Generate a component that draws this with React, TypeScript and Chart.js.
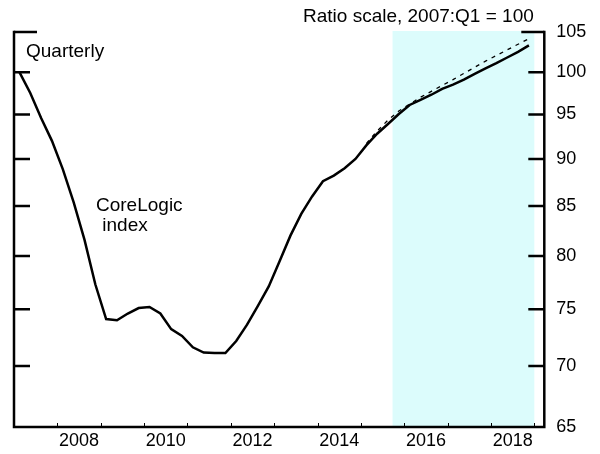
import React, { useEffect, useRef } from "react";
import { Chart, registerables } from "chart.js";
Chart.register(...registerables);

const quarters = [
  "2007:Q1","2007:Q2","2007:Q3","2007:Q4","2008:Q1","2008:Q2","2008:Q3","2008:Q4",
  "2009:Q1","2009:Q2","2009:Q3","2009:Q4","2010:Q1","2010:Q2","2010:Q3","2010:Q4",
  "2011:Q1","2011:Q2","2011:Q3","2011:Q4","2012:Q1","2012:Q2","2012:Q3","2012:Q4",
  "2013:Q1","2013:Q2","2013:Q3","2013:Q4","2014:Q1","2014:Q2","2014:Q3","2014:Q4",
  "2015:Q1","2015:Q2","2015:Q3","2015:Q4","2016:Q1","2016:Q2","2016:Q3","2016:Q4",
  "2017:Q1","2017:Q2","2017:Q3","2017:Q4","2018:Q1","2018:Q2","2018:Q3","2018:Q4",
];

const coreLogic = [
  100.0, 97.5, 94.6, 92.0, 88.9, 85.4, 81.6, 77.3,
  74.1, 74.0, 74.6, 75.1, 75.2, 74.6, 73.2, 72.6,
  71.6, 71.15, 71.1, 71.1, 72.15, 73.6, 75.3, 77.1,
  79.5, 82.0, 84.2, 86.0, 87.6, 88.2, 89.0, 90.0,
  91.5, 92.8, 93.9, 95.05, 96.1, 96.7, 97.3, 98.0,
  98.5, 99.1, 99.8, 100.45, 101.1, 101.8, 102.5, 103.3,
];

const dashedSeries = [
  null, null, null, null, null, null, null, null,
  null, null, null, null, null, null, null, null,
  null, null, null, null, null, null, null, null,
  null, null, null, null, null, null, null, null,
  91.7, 93.1, 94.35, 95.4, 96.2, 97.0, 97.7, 98.4,
  99.1, 99.85, 100.6, 101.35, 102.05, 102.75, 103.45, 104.15,
];

const yTicks = [65, 70, 75, 80, 85, 90, 95, 100, 105];
const xTickYears = [2008, 2009, 2010, 2011, 2012, 2013, 2014, 2015, 2016, 2017, 2018, 2019];
const xLabelYears = [2008, 2010, 2012, 2014, 2016, 2018];
const shadeStart = 2015.73;
const shadeEnd = 2019.0;
const xMin = 2007.0;
const xMax = 2019.23;

const FONT = "'Liberation Sans', Arial, Helvetica, sans-serif";

function quarterToX(q: string): number {
  const [y, qq] = q.split(":Q");
  return Number(y) + (Number(qq) - 1) * 0.25 + 0.125;
}

const decorPlugin = {
  id: "decor",
  beforeDatasetsDraw(chart: any) {
    const { ctx, chartArea, scales } = chart;
    const x = scales.x;
    ctx.save();
    ctx.fillStyle = "#dcfcfc";
    const x0 = x.getPixelForValue(shadeStart);
    const x1 = x.getPixelForValue(shadeEnd);
    ctx.fillRect(x0, chartArea.top - 1, x1 - x0, chartArea.bottom - chartArea.top + 1);
    ctx.restore();
  },
  afterDatasetsDraw(chart: any) {
    const { ctx, chartArea, scales } = chart;
    const x = scales.x;
    const y = scales.y;
    const { left, right, top, bottom } = chartArea;
    ctx.save();
    ctx.strokeStyle = "#000";
    ctx.lineCap = "butt";
    // x ticks
    ctx.lineWidth = 1;
    xTickYears.forEach((yr) => {
      const px = Math.round(x.getPixelForValue(yr)) + 0.5;
      ctx.beginPath();
      ctx.moveTo(px, bottom);
      ctx.lineTo(px, bottom - 4);
      ctx.stroke();
    });
    // y ticks both sides
    ctx.lineWidth = 2.5;
    yTicks.forEach((v) => {
      if (v === 65) return;
      const py = y.getPixelForValue(v);
      const len = v === 105 ? 23 : 16;
      ctx.beginPath();
      ctx.moveTo(left, py);
      ctx.lineTo(left + len, py);
      ctx.moveTo(right, py);
      ctx.lineTo(right - len, py);
      ctx.stroke();
    });
    // axes
    ctx.beginPath();
    ctx.moveTo(left, top - 1.2);
    ctx.lineTo(left, bottom);
    ctx.lineTo(right, bottom);
    ctx.lineTo(right, top - 1.2);
    ctx.stroke();
    // texts
    ctx.fillStyle = "#000";
    ctx.font = `19px ${FONT}`;
    ctx.textBaseline = "alphabetic";
    ctx.textAlign = "left";
    ctx.fillText("Quarterly", 26, 57);
    ctx.fillText("CoreLogic", 96, 211);
    ctx.fillText(" index", 97, 231);
    ctx.fillText("Ratio scale, 2007:Q1 = 100", 303, 22);
    ctx.restore();
  },
};

export default function App() {
  const ref = useRef<HTMLCanvasElement | null>(null);
  useEffect(() => {
    document.body.style.margin = "0";
    const canvas = ref.current!;
    const solid = quarters.map((q, i) => ({ x: quarterToX(q), y: coreLogic[i] }));
    const dashed = quarters.map((q, i) => ({ x: quarterToX(q), y: dashedSeries[i] }));
    const chart = new Chart(canvas, {
      type: "line",
      data: {
        datasets: [
          {
            data: dashed as any,
            borderColor: "#000",
            borderWidth: 1.3,
            borderDash: [4, 5],
            pointRadius: 0,
            tension: 0,
            spanGaps: false,
          },
          {
            data: solid as any,
            borderColor: "#000",
            borderWidth: 2.5,
            pointRadius: 0,
            tension: 0,
          },
        ],
      },
      options: {
        responsive: false,
        animation: false,
        devicePixelRatio: 1,
        layout: { padding: { left: 14, top: 32, right: 0, bottom: 0 } },
        plugins: { legend: { display: false }, tooltip: { enabled: false } },
        scales: {
          x: {
            type: "linear",
            position: "bottom",
            min: xMin,
            max: xMax,
            grid: { display: false, drawTicks: false },
            border: { display: false },
            ticks: {
              color: "#000",
              font: { family: FONT, size: 18 },
              padding: 3,
              maxRotation: 0,
              autoSkip: false,
              callback: (v: any) => String(Math.floor(Number(v))),
            },
            afterBuildTicks: (s: any) => {
              s.ticks = xLabelYears.map((yr) => ({ value: yr + 0.5 }));
            },
            afterFit: (s: any) => {
              s.height = 27;
            },
          },
          y: {
            type: "logarithmic",
            position: "right",
            min: 65,
            max: 105,
            grid: { display: false, drawTicks: false },
            border: { display: false },
            ticks: {
              color: "#000",
              font: { family: FONT, size: 18 },
              padding: 12,
              autoSkip: false,
              callback: (v: any) => String(v),
            },
            afterBuildTicks: (s: any) => {
              s.ticks = yTicks.map((v) => ({ value: v }));
            },
            afterFit: (s: any) => {
              s.width = 55.7;
            },
          },
        },
      },
      plugins: [decorPlugin],
    });
    return () => chart.destroy();
  }, []);
  return (
    <div style={{ position: "absolute", left: 0, top: 0, width: 600, height: 454, background: "#fff" }}>
      <canvas ref={ref} width={600} height={454} />
    </div>
  );
}
